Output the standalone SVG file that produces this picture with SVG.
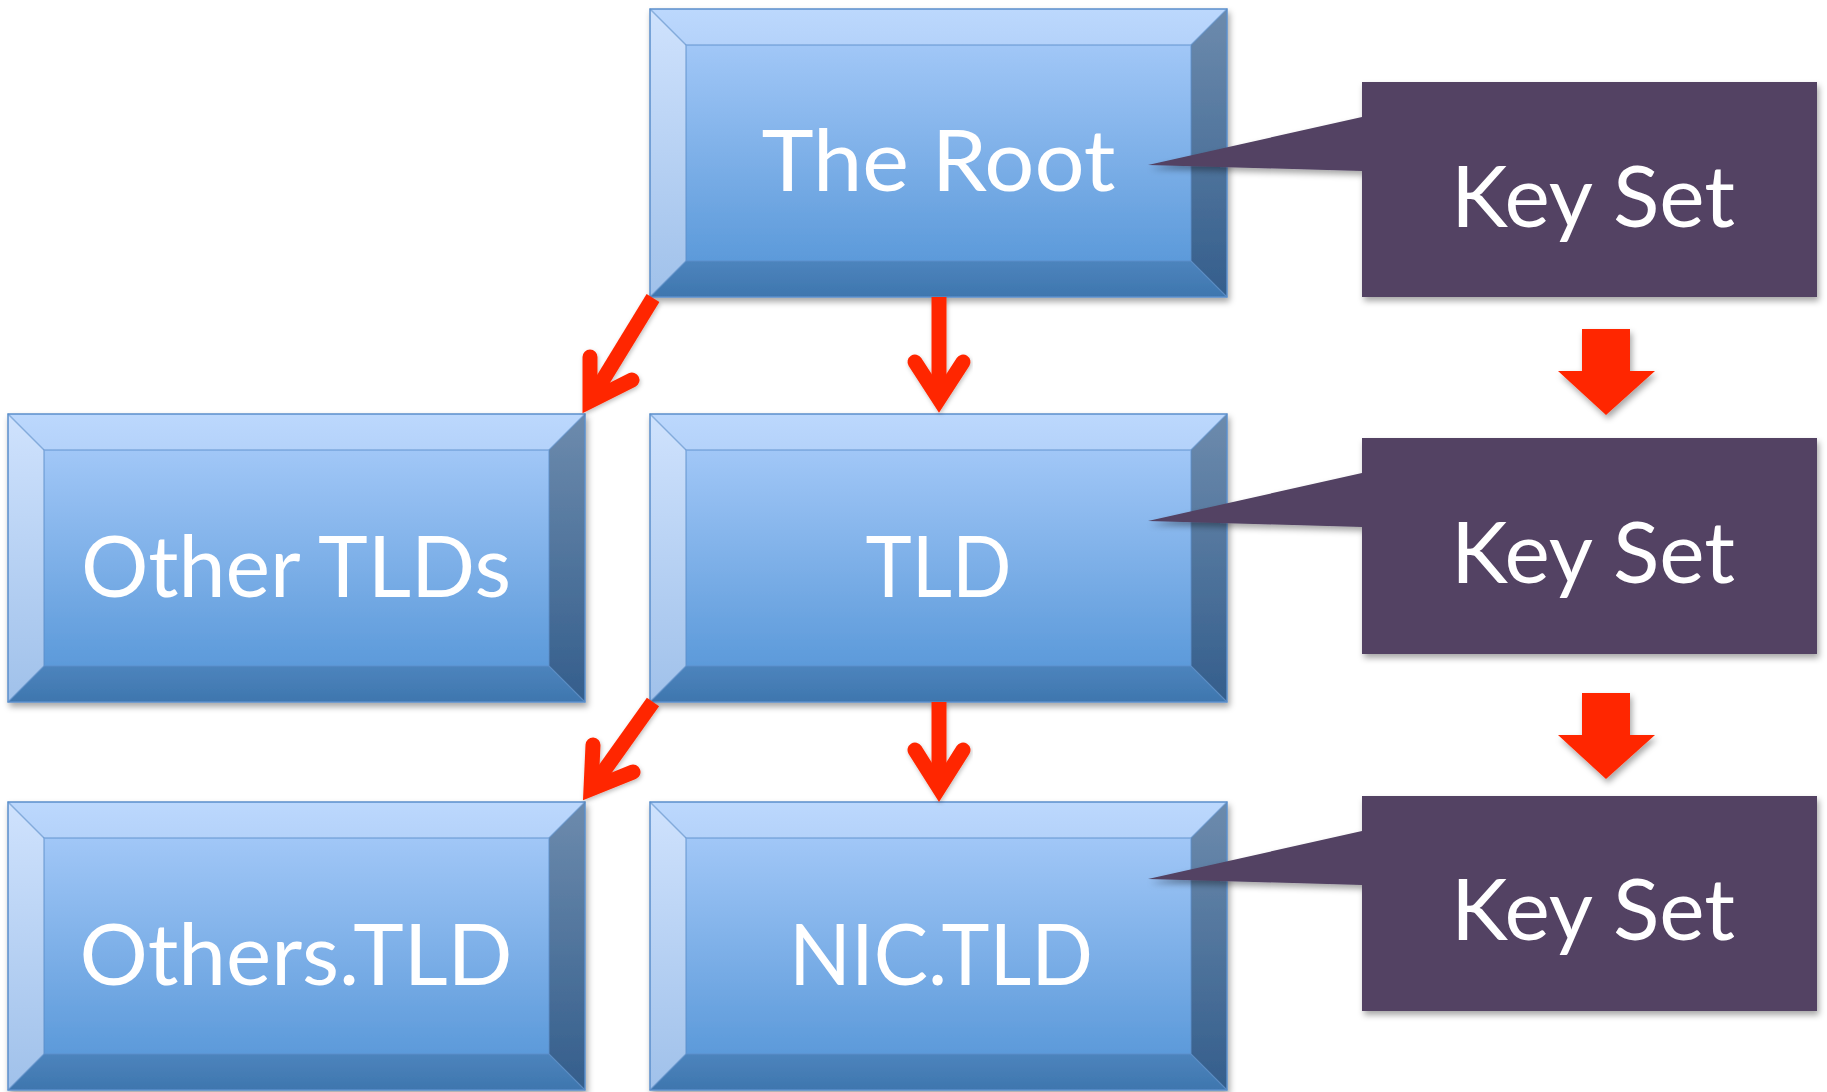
<svg xmlns="http://www.w3.org/2000/svg" xmlns:xlink="http://www.w3.org/1999/xlink" width="1827" height="1092" viewBox="0 0 1827 1092">
<style>
.lbl{font-family:Lato,"Open Sans","Liberation Sans",sans-serif;font-size:86px;fill:#ffffff;text-anchor:middle}
.edge{stroke:#5b8fcb;stroke-width:1.5;fill:none}
.ks{fill:#524263}
.conn{stroke:#ff2800;stroke-width:15;fill:none;stroke-linecap:round;stroke-linejoin:miter;stroke-miterlimit:10}
.shaft{stroke:#ff2800;stroke-width:15;fill:none;stroke-linecap:butt}
.blk{fill:#ff2800}
</style>
<defs>
<linearGradient id="gFace" x1="0" y1="0" x2="0" y2="1"><stop offset="0" stop-color="#a1c7f7"/><stop offset="1" stop-color="#5c9ada"/></linearGradient>
<linearGradient id="gTop" x1="0" y1="0" x2="0" y2="1"><stop offset="0" stop-color="#bcd8fd"/><stop offset="1" stop-color="#b4d2fa"/></linearGradient>
<linearGradient id="gLeft" x1="0" y1="0" x2="0" y2="1"><stop offset="0" stop-color="#cfe2fd"/><stop offset="1" stop-color="#a0c1ea"/></linearGradient>
<linearGradient id="gRight" x1="0" y1="0" x2="0" y2="1"><stop offset="0" stop-color="#6d8bad"/><stop offset="1" stop-color="#345e8c"/></linearGradient>
<linearGradient id="gBot" x1="0" y1="0" x2="0" y2="1"><stop offset="0" stop-color="#4d84bd"/><stop offset="1" stop-color="#3e76ae"/></linearGradient>
<filter id="sh" x="-5%" y="-5%" width="112%" height="115%"><feDropShadow dx="2" dy="4" stdDeviation="3" flood-color="#000" flood-opacity="0.35"/></filter>
<filter id="shs" x="-20%" y="-20%" width="140%" height="140%"><feDropShadow dx="1" dy="2" stdDeviation="2" flood-color="#000" flood-opacity="0.25"/></filter>
<g id="bevel">
<rect x="36" y="36" width="505" height="216" fill="url(#gFace)"/>
<polygon points="0,0 577,0 541,36 36,36" fill="url(#gTop)"/>
<polygon points="0,0 36,36 36,252 0,288" fill="url(#gLeft)"/>
<polygon points="577,0 577,288 541,252 541,36" fill="url(#gRight)"/>
<polygon points="0,288 36,252 541,252 577,288" fill="url(#gBot)"/>
<rect x="0" y="0" width="577" height="288" class="edge"/>
<rect x="36" y="36" width="505" height="216" class="edge" stroke-opacity="0.6"/>
<path d="M0,0 L36,36 M577,0 L541,36 M0,288 L36,252 M577,288 L541,252" class="edge" stroke-opacity="0.6"/>
</g>
</defs>
<rect width="1827" height="1092" fill="#ffffff"/>

<g id="root">
<use xlink:href="#bevel" transform="translate(650,9)" filter="url(#sh)"/>
<text class="lbl" x="938.5" y="191" textLength="354" lengthAdjust="spacingAndGlyphs">The Root</text>
</g>
<g id="other-tlds">
<use xlink:href="#bevel" transform="translate(8,414)" filter="url(#sh)"/>
<text class="lbl" x="296" y="597" textLength="430" lengthAdjust="spacingAndGlyphs">Other TLDs</text>
</g>
<g id="tld">
<use xlink:href="#bevel" transform="translate(650,414)" filter="url(#sh)"/>
<text class="lbl" x="938.5" y="597" textLength="146" lengthAdjust="spacingAndGlyphs">TLD</text>
</g>
<g id="others-tld">
<use xlink:href="#bevel" transform="translate(8,802)" filter="url(#sh)"/>
<text class="lbl" x="296" y="985" textLength="433" lengthAdjust="spacingAndGlyphs">Others.TLD</text>
</g>
<g id="nic-tld">
<use xlink:href="#bevel" transform="translate(650,802)" filter="url(#sh)"/>
<text class="lbl" x="941" y="985" textLength="304" lengthAdjust="spacingAndGlyphs">NIC.TLD</text>
</g>

<g id="keyset-root">
<path class="ks" filter="url(#sh)" d="M1362,82 H1817 V297 H1362 V171 L1148,165 L1362,117 Z"/>
<text class="lbl" x="1593" y="227" textLength="284" lengthAdjust="spacingAndGlyphs">Key Set</text>
</g>
<g id="keyset-tld">
<path class="ks" filter="url(#sh)" d="M1362,438 H1817 V654 H1362 V527 L1148,521 L1362,473 Z"/>
<text class="lbl" x="1593" y="583" textLength="284" lengthAdjust="spacingAndGlyphs">Key Set</text>
</g>
<g id="keyset-nic">
<path class="ks" filter="url(#sh)" d="M1362,796 H1817 V1011 H1362 V885 L1148,879 L1362,831 Z"/>
<text class="lbl" x="1593" y="940" textLength="284" lengthAdjust="spacingAndGlyphs">Key Set</text>
</g>

<g id="connectors">
<g filter="url(#shs)">
<!-- Root -> TLD -->
<path class="shaft" d="M939,297 L939,399"/>
<path class="conn" d="M915,362 L939,399 L963,362"/>
</g>
<g filter="url(#shs)">
<!-- Root -> Other TLDs -->
<path class="shaft" d="M653,298 L590,401"/>
<path class="conn" d="M590,357 L590,401 L632,380"/>
</g>
<g filter="url(#shs)">
<!-- TLD -> NIC.TLD -->
<path class="shaft" d="M939,702 L939,788"/>
<path class="conn" d="M915,750 L939,788 L963,750"/>
</g>
<g filter="url(#shs)">
<!-- TLD -> Others.TLD -->
<path class="shaft" d="M653,702 L591,789"/>
<path class="conn" d="M593,745 L591,789 L633,772"/>
</g>
<!-- Key set block arrows -->
<polygon class="blk" filter="url(#sh)" points="1582,329 1630,329 1630,371 1655,371 1606,415 1558,371 1582,371"/>
<polygon class="blk" filter="url(#sh)" points="1582,693 1630,693 1630,735 1655,735 1606,779 1558,735 1582,735"/>
</g>
</svg>
